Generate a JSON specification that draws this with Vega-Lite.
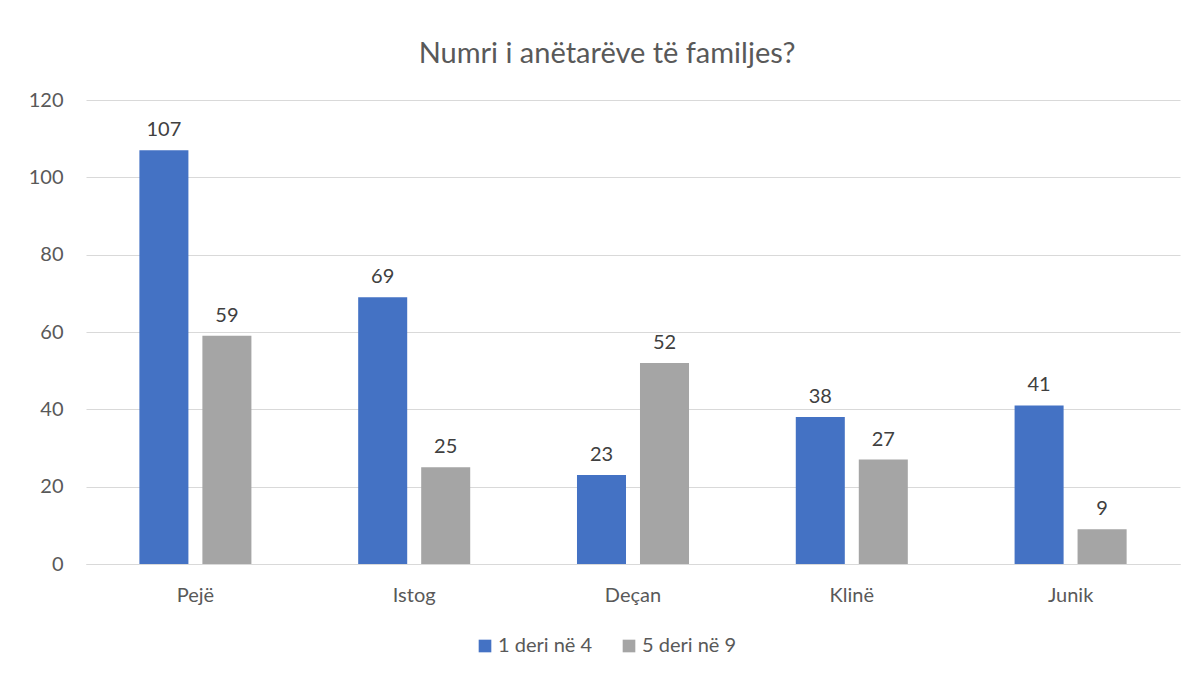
{
  "$schema": "https://vega.github.io/schema/vega-lite/v6.json",
  "width": 1094,
  "height": 464,
  "autosize": {"type": "none"},
  "padding": {"left": 86, "top": 100, "right": 20, "bottom": 114},
  "background": "white",
  "title": {
    "text": "Numri i anëtarëve të familjes?",
    "font": "Lato",
    "fontSize": 29,
    "fontWeight": "normal",
    "color": "#595959",
    "anchor": "middle",
    "dx": -26,
    "offset": 21
  },
  "data": {
    "values": [
      {"city": "Pejë", "group": "1 deri në 4", "value": 107},
      {"city": "Pejë", "group": "5 deri në 9", "value": 59},
      {"city": "Istog", "group": "1 deri në 4", "value": 69},
      {"city": "Istog", "group": "5 deri në 9", "value": 25},
      {"city": "Deçan", "group": "1 deri në 4", "value": 23},
      {"city": "Deçan", "group": "5 deri në 9", "value": 52},
      {"city": "Klinë", "group": "1 deri në 4", "value": 38},
      {"city": "Klinë", "group": "5 deri në 9", "value": 27},
      {"city": "Junik", "group": "1 deri në 4", "value": 41},
      {"city": "Junik", "group": "5 deri në 9", "value": 9}
    ]
  },
  "encoding": {
    "x": {
      "field": "city",
      "type": "nominal",
      "sort": ["Pejë", "Istog", "Deçan", "Klinë", "Junik"],
      "scale": {"paddingInner": 0.488, "paddingOuter": 0.244},
      "axis": {
        "title": null,
        "labelAngle": 0,
        "labelFont": "Lato",
        "labelFontSize": 20,
        "labelColor": "#595959",
        "labelPadding": 21,
        "ticks": false,
        "domainColor": "#d9d9d9",
        "domainWidth": 1
      }
    },
    "xOffset": {
      "field": "group",
      "type": "nominal",
      "scale": {"paddingInner": 0.222, "paddingOuter": 0}
    },
    "y": {
      "field": "value",
      "type": "quantitative",
      "scale": {"domain": [0, 120]},
      "axis": {
        "title": null,
        "values": [0, 20, 40, 60, 80, 100, 120],
        "labelFont": "Lato",
        "labelFontSize": 20,
        "labelColor": "#595959",
        "labelPadding": 23,
        "ticks": false,
        "domain": false,
        "gridColor": "#d9d9d9",
        "gridWidth": 1
      }
    }
  },
  "layer": [
    {
      "mark": {"type": "bar"},
      "encoding": {
        "color": {
          "field": "group",
          "type": "nominal",
          "scale": {"domain": ["1 deri në 4", "5 deri në 9"], "range": ["#4472C4", "#A5A5A5"]},
          "legend": {
            "title": null,
            "orient": "none",
            "direction": "horizontal",
            "legendX": 389,
            "legendY": 536,
            "symbolType": "square",
            "symbolSize": 160,
            "symbolStrokeWidth": 0,
            "labelFont": "Lato",
            "labelFontSize": 20,
            "labelColor": "#595959",
            "columnPadding": 26,
            "labelOffset": 3
          }
        }
      }
    },
    {
      "mark": {"type": "text", "baseline": "bottom", "dy": -10, "font": "Lato", "fontSize": 20, "color": "#404040"},
      "encoding": {
        "text": {"field": "value", "type": "quantitative"}
      }
    }
  ],
  "config": {
    "view": {"stroke": null}
  }
}
